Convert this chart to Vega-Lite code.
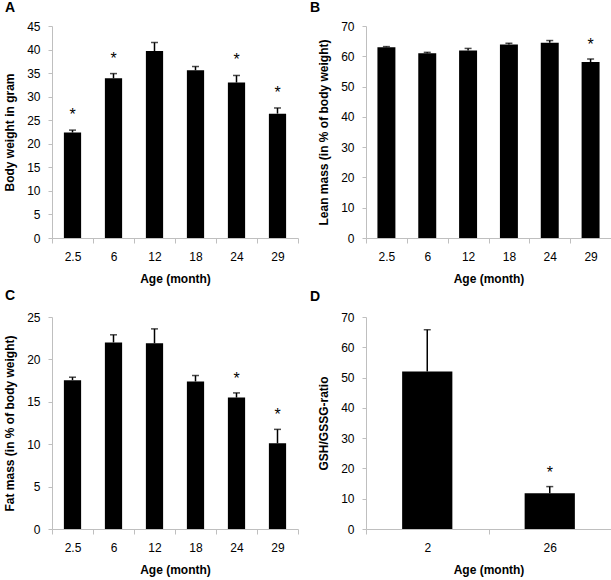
{
  "$schema": "https://vega.github.io/schema/vega-lite/v6.json",
  "bounds": "flush",
  "padding": {"left": 3, "top": 0, "right": 2, "bottom": 2},
  "columns": 2,
  "spacing": {"row": 79, "column": 68},
  "datasets": {
    "A": [
      {"age": "2.5", "value": 22.4, "upper": 22.9, "sig": "*"},
      {"age": "6", "value": 33.9, "upper": 34.9, "sig": "*"},
      {"age": "12", "value": 39.7, "upper": 41.5, "sig": ""},
      {"age": "18", "value": 35.6, "upper": 36.4, "sig": ""},
      {"age": "24", "value": 33.0, "upper": 34.5, "sig": "*"},
      {"age": "29", "value": 26.4, "upper": 27.6, "sig": "*"}
    ],
    "B": [
      {"age": "2.5", "value": 63.0, "upper": 63.2, "sig": ""},
      {"age": "6", "value": 61.0, "upper": 61.3, "sig": ""},
      {"age": "12", "value": 61.9, "upper": 62.6, "sig": ""},
      {"age": "18", "value": 63.9, "upper": 64.3, "sig": ""},
      {"age": "24", "value": 64.5, "upper": 65.2, "sig": ""},
      {"age": "29", "value": 58.1, "upper": 59.1, "sig": "*"}
    ],
    "C": [
      {"age": "2.5", "value": 17.55, "upper": 17.9, "sig": ""},
      {"age": "6", "value": 22.0, "upper": 22.9, "sig": ""},
      {"age": "12", "value": 21.9, "upper": 23.6, "sig": ""},
      {"age": "18", "value": 17.4, "upper": 18.1, "sig": ""},
      {"age": "24", "value": 15.5, "upper": 16.05, "sig": "*"},
      {"age": "29", "value": 10.1, "upper": 11.75, "sig": "*"}
    ],
    "D": [
      {"age": "2", "value": 52.0, "upper": 65.8, "sig": ""},
      {"age": "26", "value": 11.8, "upper": 14.0, "sig": "*"}
    ]
  },
  "config": {
    "view": {"stroke": null},
    "font": "Liberation Sans",
    "axis": {
      "domainColor": "#bfbfbf",
      "tickColor": "#bfbfbf",
      "labelColor": "#000000",
      "labelFontSize": 12,
      "labelFont": "Liberation Sans",
      "titleFont": "Liberation Sans",
      "titleFontSize": 12,
      "titleFontWeight": "bold",
      "titleColor": "#000000",
      "grid": false,
      "labelOverlap": false
    },
    "axisX": {"labelAngle": 0, "tickBand": "extent", "tickSize": 5, "labelPadding": 8, "titlePadding": 11},
    "axisY": {"tickSize": 4, "labelPadding": 8, "titlePadding": 10},
    "title": {"fontSize": 14, "fontWeight": "bold", "anchor": "start", "frame": "group", "color": "#000000", "font": "Liberation Sans"}
  },
  "concat": [
    {
      "width": 246, "height": 212,
      "title": {"text": "A", "dx": -47},
      "data": {"name": "A"},
      "encoding": {"x": {"field": "age", "type": "ordinal", "sort": null, "title": "Age (month)", "scale": {"paddingInner": 0, "paddingOuter": 0}}},
      "layer": [
        {"mark": {"type": "bar", "color": "#000000", "width": {"band": 0.42}},
         "encoding": {"y": {"field": "value", "type": "quantitative", "title": "Body weight in gram", "scale": {"domain": [0, 45], "nice": false}, "axis": {"values": [0, 5, 10, 15, 20, 25, 30, 35, 40, 45]}}}},
        {"mark": {"type": "rule", "color": "#000000", "strokeWidth": 1.5},
         "encoding": {"y": {"field": "value", "type": "quantitative", "title": "Body weight in gram", "scale": {"domain": [0, 45], "nice": false}, "axis": {"values": [0, 5, 10, 15, 20, 25, 30, 35, 40, 45]}}, "y2": {"field": "upper"}}},
        {"mark": {"type": "tick", "color": "#000000", "size": 7, "thickness": 1.5},
         "encoding": {"y": {"field": "upper", "type": "quantitative", "title": "Body weight in gram", "scale": {"domain": [0, 45], "nice": false}, "axis": {"values": [0, 5, 10, 15, 20, 25, 30, 35, 40, 45]}}}},
        {"mark": {"type": "text", "fontSize": 16, "dy": -10, "baseline": "alphabetic", "color": "#000000"},
         "encoding": {"y": {"field": "upper", "type": "quantitative", "title": "Body weight in gram", "scale": {"domain": [0, 45], "nice": false}, "axis": {"values": [0, 5, 10, 15, 20, 25, 30, 35, 40, 45]}}, "text": {"field": "sig"}}}
      ]
    },
    {
      "width": 245, "height": 212,
      "title": {"text": "B", "dx": -56},
      "data": {"name": "B"},
      "encoding": {"x": {"field": "age", "type": "ordinal", "sort": null, "title": "Age (month)", "scale": {"paddingInner": 0, "paddingOuter": 0}}},
      "layer": [
        {"mark": {"type": "bar", "color": "#000000", "width": {"band": 0.44}},
         "encoding": {"y": {"field": "value", "type": "quantitative", "title": "Lean mass (in % of body weight)", "scale": {"domain": [0, 70], "nice": false}, "axis": {"values": [0, 10, 20, 30, 40, 50, 60, 70]}}}},
        {"mark": {"type": "rule", "color": "#000000", "strokeWidth": 1.5},
         "encoding": {"y": {"field": "value", "type": "quantitative", "title": "Lean mass (in % of body weight)", "scale": {"domain": [0, 70], "nice": false}, "axis": {"values": [0, 10, 20, 30, 40, 50, 60, 70]}}, "y2": {"field": "upper"}}},
        {"mark": {"type": "tick", "color": "#000000", "size": 7, "thickness": 1.5},
         "encoding": {"y": {"field": "upper", "type": "quantitative", "title": "Lean mass (in % of body weight)", "scale": {"domain": [0, 70], "nice": false}, "axis": {"values": [0, 10, 20, 30, 40, 50, 60, 70]}}}},
        {"mark": {"type": "text", "fontSize": 16, "dy": -9, "baseline": "alphabetic", "color": "#000000"},
         "encoding": {"y": {"field": "upper", "type": "quantitative", "title": "Lean mass (in % of body weight)", "scale": {"domain": [0, 70], "nice": false}, "axis": {"values": [0, 10, 20, 30, 40, 50, 60, 70]}}, "text": {"field": "sig"}}}
      ]
    },
    {
      "width": 246, "height": 212,
      "title": {"text": "C", "dx": -47},
      "data": {"name": "C"},
      "encoding": {"x": {"field": "age", "type": "ordinal", "sort": null, "title": "Age (month)", "scale": {"paddingInner": 0, "paddingOuter": 0}}},
      "layer": [
        {"mark": {"type": "bar", "color": "#000000", "width": {"band": 0.42}},
         "encoding": {"y": {"field": "value", "type": "quantitative", "title": "Fat mass (in % of body weight)", "scale": {"domain": [0, 25], "nice": false}, "axis": {"values": [0, 5, 10, 15, 20, 25]}}}},
        {"mark": {"type": "rule", "color": "#000000", "strokeWidth": 1.5},
         "encoding": {"y": {"field": "value", "type": "quantitative", "title": "Fat mass (in % of body weight)", "scale": {"domain": [0, 25], "nice": false}, "axis": {"values": [0, 5, 10, 15, 20, 25]}}, "y2": {"field": "upper"}}},
        {"mark": {"type": "tick", "color": "#000000", "size": 7, "thickness": 1.5},
         "encoding": {"y": {"field": "upper", "type": "quantitative", "title": "Fat mass (in % of body weight)", "scale": {"domain": [0, 25], "nice": false}, "axis": {"values": [0, 5, 10, 15, 20, 25]}}}},
        {"mark": {"type": "text", "fontSize": 16, "dy": -9, "baseline": "alphabetic", "color": "#000000"},
         "encoding": {"y": {"field": "upper", "type": "quantitative", "title": "Fat mass (in % of body weight)", "scale": {"domain": [0, 25], "nice": false}, "axis": {"values": [0, 5, 10, 15, 20, 25]}}, "text": {"field": "sig"}}}
      ]
    },
    {
      "width": 245, "height": 212,
      "title": {"text": "D", "dx": -56},
      "data": {"name": "D"},
      "encoding": {"x": {"field": "age", "type": "ordinal", "sort": null, "title": "Age (month)", "scale": {"paddingInner": 0, "paddingOuter": 0}}},
      "layer": [
        {"mark": {"type": "bar", "color": "#000000", "width": {"band": 0.41}},
         "encoding": {"y": {"field": "value", "type": "quantitative", "title": "GSH/GSSG-ratio", "scale": {"domain": [0, 70], "nice": false}, "axis": {"values": [0, 10, 20, 30, 40, 50, 60, 70]}}}},
        {"mark": {"type": "rule", "color": "#000000", "strokeWidth": 1.5},
         "encoding": {"y": {"field": "value", "type": "quantitative", "title": "GSH/GSSG-ratio", "scale": {"domain": [0, 70], "nice": false}, "axis": {"values": [0, 10, 20, 30, 40, 50, 60, 70]}}, "y2": {"field": "upper"}}},
        {"mark": {"type": "tick", "color": "#000000", "size": 7, "thickness": 1.5},
         "encoding": {"y": {"field": "upper", "type": "quantitative", "title": "GSH/GSSG-ratio", "scale": {"domain": [0, 70], "nice": false}, "axis": {"values": [0, 10, 20, 30, 40, 50, 60, 70]}}}},
        {"mark": {"type": "text", "fontSize": 16, "dy": -9, "baseline": "alphabetic", "color": "#000000"},
         "encoding": {"y": {"field": "upper", "type": "quantitative", "title": "GSH/GSSG-ratio", "scale": {"domain": [0, 70], "nice": false}, "axis": {"values": [0, 10, 20, 30, 40, 50, 60, 70]}}, "text": {"field": "sig"}}}
      ]
    }
  ]
}
